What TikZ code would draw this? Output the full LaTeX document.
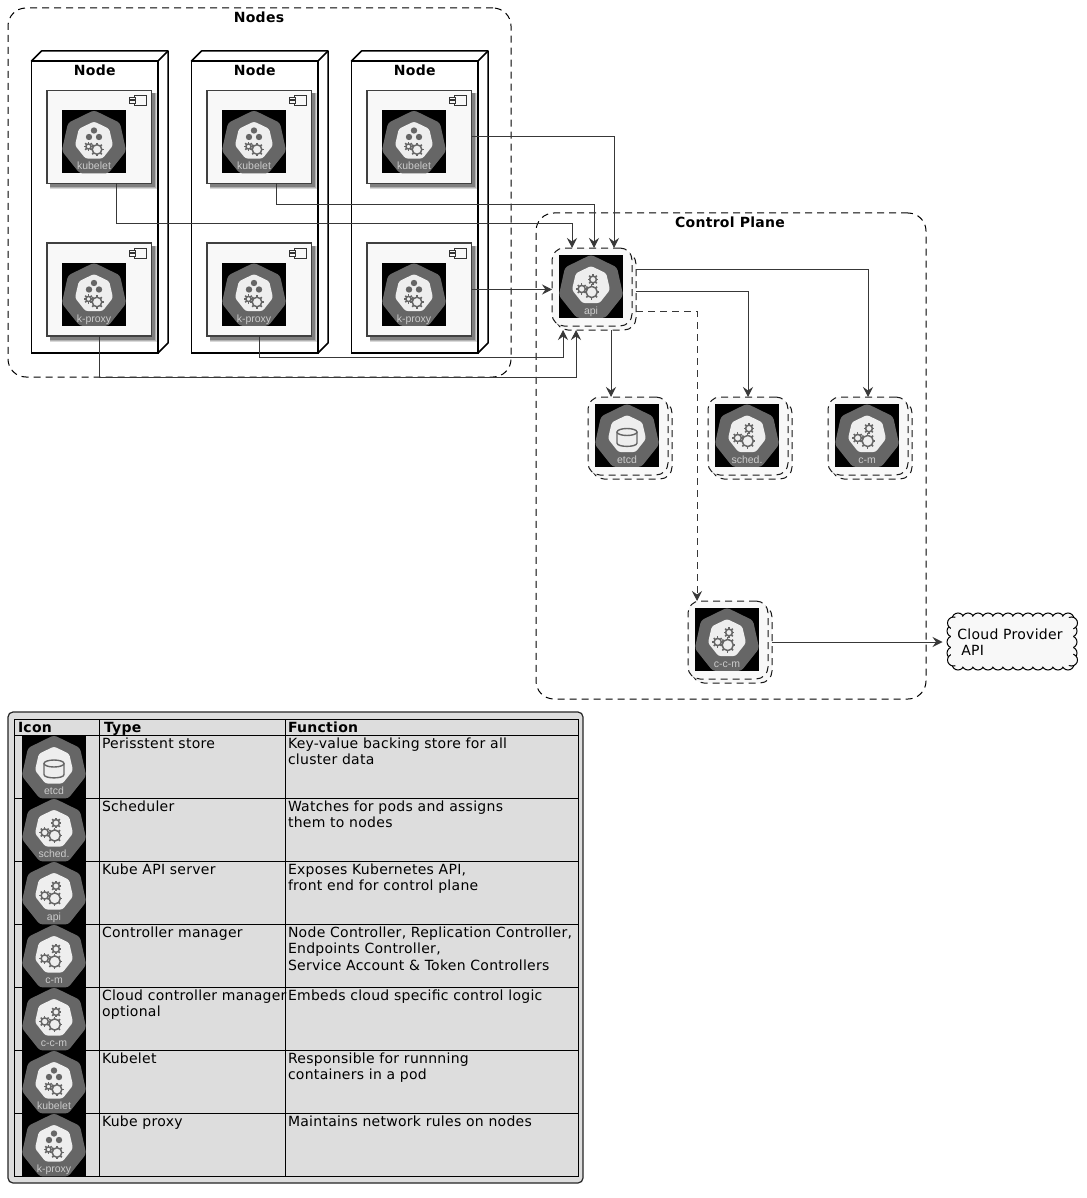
\documentclass[tikz,border=0pt]{standalone}
\usepackage{fontspec}
\setmainfont[LetterSpace=2]{DejaVu Sans}
\newfontfamily\iconfont{Liberation Sans}
\usetikzlibrary{arrows.meta}
\definecolor{hept}{HTML}{666666}
\definecolor{hwhite}{HTML}{EEEEEE}
\definecolor{paper}{HTML}{F8F8F8}
\definecolor{legbg}{HTML}{DDDDDD}
\definecolor{conncol}{HTML}{383838}
\tikzset{
  every node/.style={inner sep=0pt,outer sep=0pt},
  txt/.style={font=\fontsize{14}{16.5}\selectfont,align=left},
  cell/.style={txt,anchor=north west},
  ttl/.style={font=\bfseries\fontsize{14}{16.5}\selectfont,anchor=base},
  hdr/.style={font=\bfseries\fontsize{14}{16.5}\selectfont,anchor=base west},
  frame/.style={draw=black,line width=1pt,dash pattern=on 7pt off 5pt,rounded corners=18pt,rectangle},
  nodebox/.style={draw=black,line width=1.5pt,fill=white,rectangle,minimum width=126.5pt,minimum height=292pt},
  compbox/.style={draw=black!75,line width=1.5pt,fill=paper,rectangle,minimum width=104.5pt,minimum height=93pt},
  stackbox/.style={draw=black!90,line width=1pt,dash pattern=on 7pt off 5pt,fill=paper,rectangle,rounded corners=12pt,minimum width=80pt,minimum height=78pt},
  conn/.style={draw=conncol,line width=1pt,-{Stealth[length=10pt,width=10pt,inset=3.5pt]}},
  dconn/.style={conn,dash pattern=on 7pt off 5pt},
  gearc/.style={draw=hept,line width=1.5pt},
  bump/.style={draw=black,line width=1pt,fill=paper},
}
\newcommand\gearat[3]{%
  \draw[gearc,fill=hwhite] (#1,#2) circle[radius=#3];
  \foreach \a in {0,45,...,315}{\draw[draw=hept,line width=1.5pt] (#1,#2) ++(\a:#3) -- ++(\a:2);}
}
\newcommand\icgears{%
  \gearat{22.7}{34}{3.6}\gearat{34}{24.5}{3.4}\gearat{32.7}{37}{5.6}}
\newcommand\icnode{%
  \fill[hept] (32,20) circle[radius=3.2] (27,26.5) circle[radius=3.2] (37,26.5) circle[radius=3.2];
  \gearat{26.5}{36}{2.6}\gearat{35}{39}{4.8}}
\newcommand\icetcd{%
  \draw[hept,line width=1.4pt] (22,28) -- (22,39) .. controls (22,43.5) and (42,43.5) .. (42,39) -- (42,28);
  \draw[hept,line width=1.4pt] (32,28) ellipse[x radius=10,y radius=3.5];}
% name, x, y, glyphs, label
\newcommand\kicon[5]{%
  \begin{scope}[shift={(#2,#3)}]
    \fill[black] (0,0) rectangle (64,63);
    \fill[hept,rounded corners=3pt] (32,-0.3) -- (58,12.4) -- (64.2,40.4) -- (46.3,62.9) -- (17.7,62.9) -- (-0.2,40.4) -- (6,12.4) -- cycle;
    \fill[hwhite,rounded corners=2.5pt] (32,11) -- (47.2,18.3) -- (51,34.8) -- (40.5,48.1) -- (23.5,48.1) -- (13,34.8) -- (16.8,18.3) -- cycle;
    #4
    \node[anchor=base,text=black!20,font=\iconfont\fontsize{10.5}{12}\selectfont] (#1) at (32,59.2) {#5};
  \end{scope}}
% name, left, top, label
\newcommand\compo[4]{%
  \fill[black!15] (#2+3,#3+3) rectangle (#2+109.5,#3+98.5);
  \fill[black!30] (#2+3,#3+3) rectangle (#2+108.5,#3+97.5);
  \fill[black!50] (#2+3,#3+3) rectangle (#2+107.5,#3+96.5);
  \node[compbox] (#1) at (#2+52.25,#3+46.5) {};
  \begin{scope}[shift={(#2+104.5,#3)}]
    \draw[black!80,line width=1pt,fill=paper] (-17.5,5) rectangle (-5,15);
    \draw[black!80,line width=1pt,fill=paper] (-22.5,7) rectangle (-16.5,9.5);
    \draw[black!80,line width=1pt,fill=paper] (-22.5,10.5) rectangle (-16.5,13);
  \end{scope}
  \kicon{#1-icon}{#2+15}{#3+20}{\icnode}{#4}}
% name, left, top, glyphs, label
\newcommand\stackit[5]{%
  \node[stackbox] (#1-b) at (#2+44,#3+43) {};
  \node[stackbox] (#1) at (#2+40,#3+39) {};
  \kicon{#1-icon}{#2+7}{#3+7}{#4}{#5}}
% name, left
\newcommand\nodecol[2]{%
  \node[nodebox] (#1) at (#2+63.25,207) {};
  \draw[black,line width=1.5pt,line join=round,fill=white] (#1.north west) -- ++(10,-10) -- ++(126.5,0) -- ++(0,292) -- ++(-10,10) -- ++(0,-292) -- cycle;
  \draw[black,line width=1.5pt] (#1.north east) -- ++(10,-10);
  \node[ttl] (#1-t) at (#2+63.25,76) {Node};}
% name, top, glyphs, label, type, function
\newcommand\legrow[6]{%
  \draw[black,line width=1pt] (14,#2+63) -- (578,#2+63);
  \kicon{#1-icon}{22}{#2+0.5}{#3}{#4}
  \node[cell] (#1-type) at (102,#2+1.5) {\strut#5};
  \node[cell] (#1-fn) at (288,#2+1.5) {\strut#6};}
\begin{document}
\begin{tikzpicture}[x=1pt,y=-1pt]
\useasboundingbox (0,0) rectangle (1086,1198);
\fill[white] (0,0) rectangle (1086,1198);

% frames
\node[frame,minimum width=503pt,minimum height=369pt] (nodes) at (259.5,192.5) {};
\node[ttl] (nodes-t) at (259,22.5) {Nodes};
\node[frame,minimum width=390pt,minimum height=486pt] (cp) at (731,456) {};
\node[ttl] (cp-t) at (730,228) {Control Plane};

% worker nodes
\nodecol{n1}{31.5}
\nodecol{n2}{191.5}
\nodecol{n3}{351.5}
\compo{kl1}{47}{90.5}{kubelet}
\compo{kl2}{207}{90.5}{kubelet}
\compo{kl3}{367}{90.5}{kubelet}
\compo{kp1}{47}{243}{k-proxy}
\compo{kp2}{207}{243}{k-proxy}
\compo{kp3}{367}{243}{k-proxy}

% control plane
\stackit{api}{552}{248}{\icgears}{api}
\stackit{etcd}{588}{397}{\icetcd}{etcd}
\stackit{sched}{708}{397}{\icgears}{sched.}
\stackit{cm}{828}{397}{\icgears}{c-m}
\stackit{ccm}{688}{601}{\icgears}{c-c-m}

% cloud outline: scallops round a filled core
\foreach \bx in {958,968,...,1068}{\draw[bump] (\bx,619) circle[radius=6]; \draw[bump] (\bx,664) circle[radius=6];}
\foreach \by in {631,642,653}{\draw[bump] (953,\by) circle[radius=6]; \draw[bump] (1071,\by) circle[radius=6];}
\foreach \cx/\cy in {953.5/623,1071.5/623,953.5/660,1071.5/660}{\draw[bump] (\cx,\cy) circle[radius=6];}
\fill[paper,rounded corners=8pt] (951,616.5) rectangle (1073,666.5);
\node[txt,minimum width=123pt,minimum height=56pt] (cloud) at (1010,642) {Cloud Provider\\\hspace*{4pt}API};

% connectors
\draw[conn] ([xshift=17pt]kl1.south) -- ++(0,40) -| ([xshift=-20pt]api.north);
\draw[conn] ([xshift=17pt]kl2.south) -- ++(0,21) -| ([xshift=2pt]api.north);
\draw[conn] (kl3.east) -| ([xshift=22pt]api.north);
\draw[conn] (kp3.east) -- (kp3.east -| api.west);
\draw[conn] (kp2.south) -- ++(0,21) -| ([xshift=-33pt]api-b.south);
\draw[conn] (kp1.south) -- ++(0,41) -| ([xshift=-20pt]api-b.south);
\draw[conn] ([xshift=15pt]api-b.south) -- ([xshift=-17pt]etcd.north);
\draw[conn] (api-b.east) -| (sched.north);
\draw[conn] ([yshift=22pt]api-b.east) -| (cm.north);
\draw[dconn] ([yshift=-20pt]api-b.east) -| ([xshift=-31pt]ccm.north);
\draw[conn] ([yshift=2pt]ccm-b.east) -- ([yshift=2pt,xshift=-6pt]ccm-b.east -| cloud.west);

% legend
\node[draw=black!85,line width=1.2pt,fill=legbg,rectangle,rounded corners=5pt,minimum width=575pt,minimum height=471pt] (legend) at (295.5,947.5) {};
\draw[black,line width=1pt] (14,719) rectangle (578,1176);
\draw[black,line width=1pt] (14,735) -- (578,735);
\draw[black,line width=1pt] (99,719) -- (99,1176);
\draw[black,line width=1pt] (285,719) -- (285,1176);
\node[hdr] (h1) at (18,732) {Icon};
\node[hdr] (h2) at (104,732) {Type};
\node[hdr] (h3) at (288,732) {Function};
\legrow{r1}{735}{\icetcd}{etcd}{Perisstent store}{Key-value backing store for all\\cluster data}
\legrow{r2}{798}{\icgears}{sched.}{Scheduler}{Watches for pods and assigns\\them to nodes}
\legrow{r3}{861}{\icgears}{api}{Kube API server}{Exposes Kubernetes API,\\front end for control plane}
\legrow{r4}{924}{\icgears}{c-m}{Controller manager}{Node Controller, Replication Controller,\\Endpoints Controller,\\Service Account \& Token Controllers}
\legrow{r5}{987}{\icgears}{c-c-m}{Cloud controller manager\\optional}{Embeds cloud specific control logic}
\legrow{r6}{1050}{\icnode}{kubelet}{Kubelet}{Responsible for runnning\\containers in a pod}
\legrow{r7}{1113}{\icnode}{k-proxy}{Kube proxy}{Maintains network rules on nodes}
\end{tikzpicture}
\end{document}
